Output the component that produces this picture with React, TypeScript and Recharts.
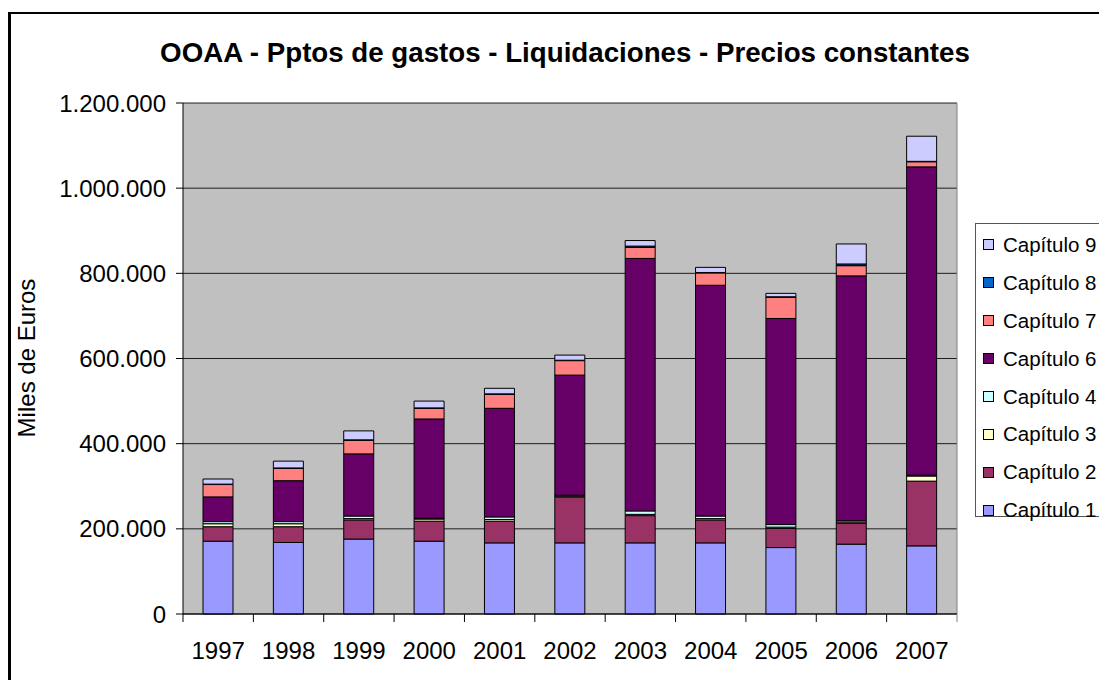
import React from 'react';
import { BarChart, Bar, XAxis, YAxis, CartesianGrid, Legend } from 'recharts';

const years = ['1997', '1998', '1999', '2000', '2001', '2002', '2003', '2004', '2005', '2006', '2007'];

// miles de euros
const cap1 = [171000, 168000, 176000, 171000, 167000, 167000, 167000, 167000, 156000, 164000, 160000];
const cap2 = [34000, 37000, 45000, 47000, 51000, 108000, 64000, 54000, 45000, 49000, 152000];
const cap3 = [7000, 7000, 3000, 5000, 4000, 2000, 3000, 3000, 3000, 3000, 12000];
const cap4 = [5000, 5000, 6000, 2000, 6000, 2000, 8000, 6000, 6000, 3000, 2000];
const cap6 = [58000, 96000, 146000, 233000, 255000, 282000, 593000, 542000, 484000, 575000, 724000];
const cap7 = [29000, 29000, 32000, 25000, 33000, 34000, 26000, 29000, 50000, 24000, 12000];
const cap8 = [1000, 1000, 1000, 1000, 1000, 1000, 3000, 1000, 1000, 4000, 1000];
const cap9 = [12000, 16000, 21000, 16000, 13000, 12000, 13000, 12000, 8000, 47000, 59000];

const yTicks = [0, 200000, 400000, 600000, 800000, 1000000, 1200000];

const series = [
  { key: 'cap1', name: 'Capítulo 1', values: cap1 },
  { key: 'cap2', name: 'Capítulo 2', values: cap2 },
  { key: 'cap3', name: 'Capítulo 3', values: cap3 },
  { key: 'cap4', name: 'Capítulo 4', values: cap4 },
  { key: 'cap6', name: 'Capítulo 6', values: cap6 },
  { key: 'cap7', name: 'Capítulo 7', values: cap7 },
  { key: 'cap8', name: 'Capítulo 8', values: cap8 },
  { key: 'cap9', name: 'Capítulo 9', values: cap9 },
];

const COLORS: Record<string, string> = {
  cap1: '#9999FF',
  cap2: '#993366',
  cap3: '#FFFFCC',
  cap4: '#CCFFFF',
  cap6: '#660066',
  cap7: '#FF8080',
  cap8: '#0066CC',
  cap9: '#CCCCFF',
};

const data = years.map((year, i) => {
  const row: any = { year };
  series.forEach((s) => {
    row[s.key] = s.values[i];
  });
  return row;
});

const FONT = '"Liberation Sans", Arial, sans-serif';
const W = 1099;
const H = 672;
const PLOT_LEFT = 175;
const PLOT_RIGHT = 949;
const PLOT_TOP = 95;
const PLOT_BOTTOM = 606;
const BAND = (PLOT_RIGHT - PLOT_LEFT) / years.length;

const fmt = (v: number) => String(v).replace(/\B(?=(\d{3})+(?!\d))/g, '.');

const XTick = (props: any) => {
  const { x, index, payload } = props;
  const last = index === years.length - 1;
  return (
    <g>
      <line x1={x - BAND / 2} x2={x - BAND / 2} y1={PLOT_BOTTOM} y2={PLOT_BOTTOM + 8} stroke="#000" />
      {last && <line x1={x + BAND / 2} x2={x + BAND / 2} y1={PLOT_BOTTOM} y2={PLOT_BOTTOM + 8} stroke="#808080" />}
      <text x={x} y={PLOT_BOTTOM + 45} textAnchor="middle" fontSize={24} fontFamily={FONT} fill="#000">
        {payload.value}
      </text>
    </g>
  );
};

const LegendBox = (props: any) => {
  const items = [...(props.payload || [])].sort((a: any, b: any) => String(b.value).localeCompare(String(a.value)));
  return (
    <div
      style={{
        width: 140,
        height: 294,
        boxSizing: 'border-box',
        border: '1px solid #555',
        background: '#fff',
        paddingTop: 2,
        fontFamily: FONT,
        fontSize: 20.5,
        color: '#000',
      }}
    >
      {items.map((it: any) => (
        <div key={it.value} style={{ height: 37.9, display: 'flex', alignItems: 'center' }}>
          <span
            style={{
              display: 'inline-block',
              width: 11,
              height: 11,
              boxSizing: 'border-box',
              border: '1px solid #000',
              background: it.color,
              marginLeft: 7,
              marginRight: 9,
            }}
          />
          <span style={{ whiteSpace: 'nowrap' }}>{it.value}</span>
        </div>
      ))}
    </div>
  );
};

export default function App() {
  return (
    <div style={{ position: 'relative', width: W, height: H, overflow: 'hidden', background: '#fff' }}>
      <div
        style={{
          position: 'absolute',
          left: 0,
          top: 4,
          width: W + 20,
          height: H + 20,
          borderLeft: '3px solid #000',
          borderTop: '2px solid #000',
          boxSizing: 'border-box',
        }}
      />
      <div
        style={{
          position: 'absolute',
          left: 0,
          width: 1114,
          top: 29,
          textAlign: 'center',
          fontFamily: FONT,
          fontWeight: 'bold',
          fontSize: 27.7,
          lineHeight: 'normal',
          color: '#000',
          whiteSpace: 'nowrap',
        }}
      >
        OOAA - Pptos de gastos - Liquidaciones - Precios constantes
      </div>
      <div
        style={{
          position: 'absolute',
          left: 19 - 80,
          top: 350 - 14,
          width: 160,
          textAlign: 'center',
          transform: 'rotate(-90deg)',
          transformOrigin: '80px 14px',
          fontFamily: FONT,
          fontSize: 24,
          color: '#000',
          whiteSpace: 'nowrap',
          lineHeight: '28px',
        }}
      >
        Miles de Euros
      </div>
      <div style={{ position: 'absolute', left: 0, top: 0 }}>
        <BarChart
          width={W}
          height={H}
          data={data}
          barSize={30}
          margin={{ top: PLOT_TOP, right: W - PLOT_RIGHT, bottom: H - PLOT_BOTTOM - 30, left: PLOT_LEFT - 100 }}
        >
          <CartesianGrid vertical={false} fill="#C0C0C0" stroke="#000" strokeOpacity={0.85} />
          <CartesianGrid
            horizontal={false}
            verticalCoordinatesGenerator={() => [PLOT_RIGHT]}
            stroke="#808080"
          />
          <XAxis
            dataKey="year"
            height={30}
            axisLine={{ stroke: '#000' }}
            tickLine={false}
            tick={<XTick />}
            interval={0}
          />
          <YAxis
            width={100}
            domain={[0, 1200000]}
            ticks={yTicks}
            interval={0}
            tickFormatter={fmt}
            axisLine={{ stroke: '#000' }}
            tickLine={{ stroke: '#000' }}
            tickSize={7}
            tickMargin={10}
            tick={{ fontSize: 24, fontFamily: FONT, fill: '#000' }}
          />
          <Legend
            layout="horizontal"
            verticalAlign="middle"
            align="center"
            width={140}
            height={294}
            wrapperStyle={{ left: 967, top: 215, width: 140, height: 294 }}
            content={<LegendBox />}
          />
          {series.map((s) => (
            <Bar
              key={s.key}
              dataKey={s.key}
              name={s.name}
              stackId="a"
              fill={COLORS[s.key]}
              stroke="#000"
              strokeWidth={1}
              isAnimationActive={false}
            />
          ))}
        </BarChart>
      </div>
    </div>
  );
}
